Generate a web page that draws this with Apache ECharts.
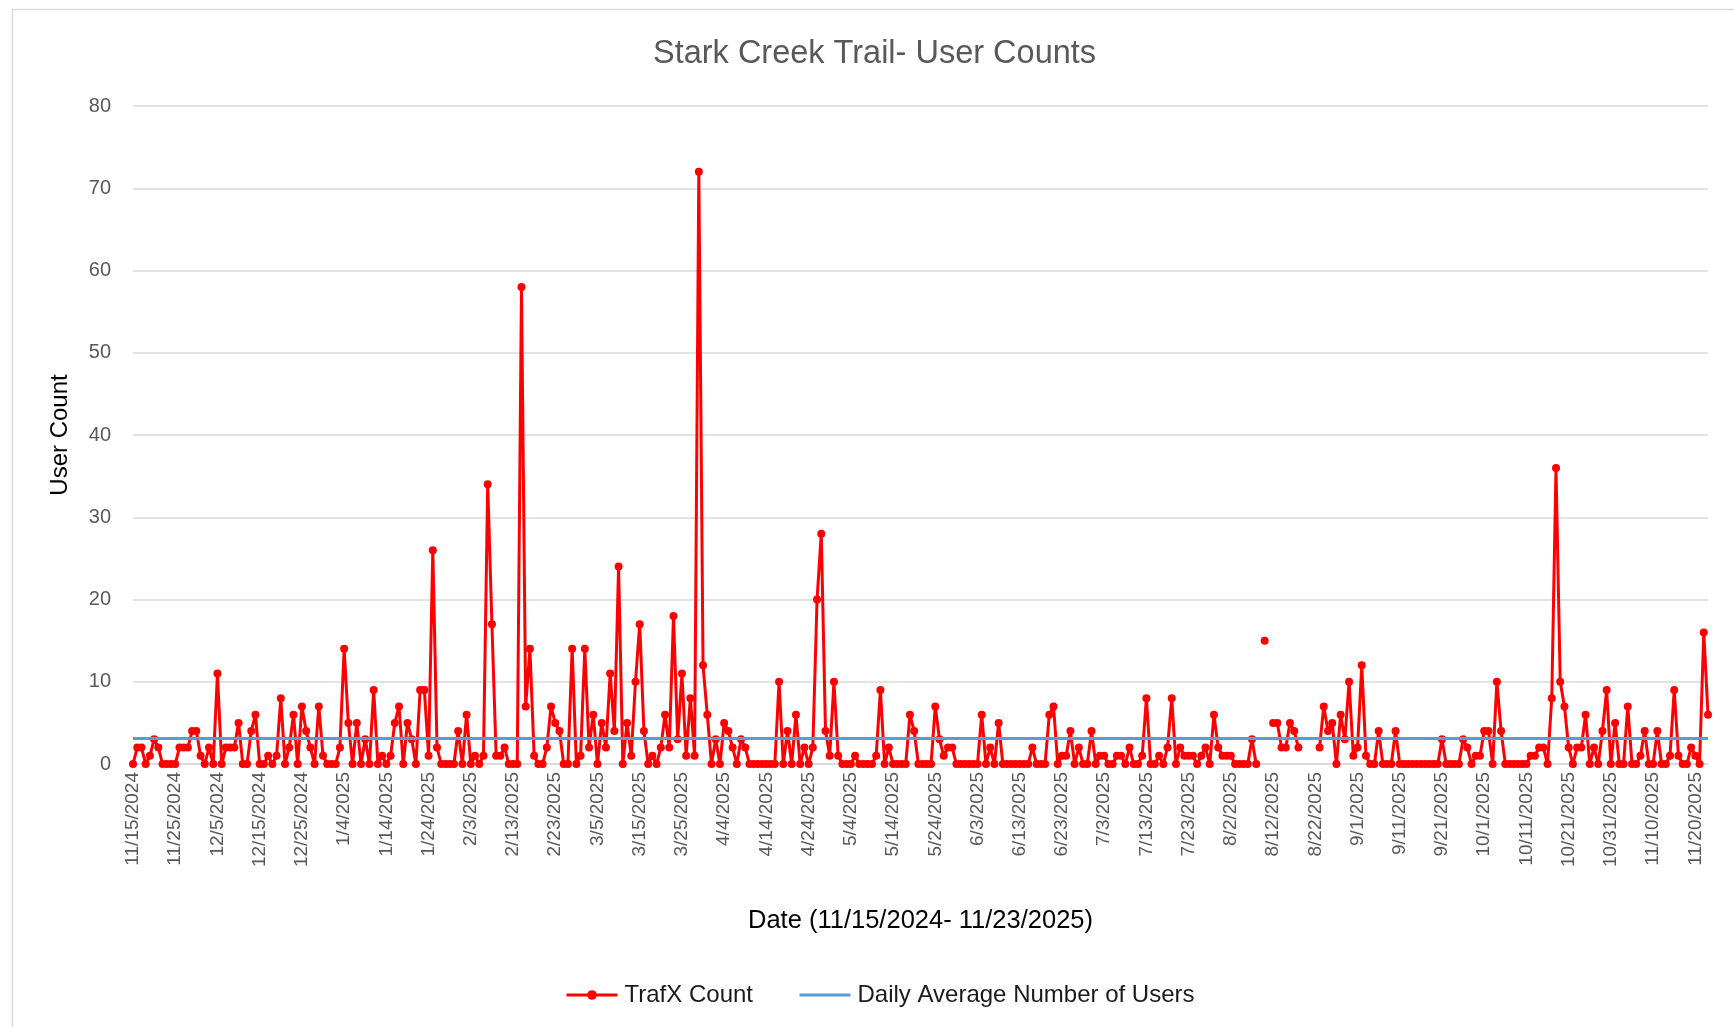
<!DOCTYPE html>
<html>
<head>
<meta charset="utf-8">
<script src="https://cdn.jsdelivr.net/npm/echarts@6/dist/echarts.min.js"></script>
<style>
html,body{margin:0;padding:0;background:#fff;}
#chart{width:1734px;height:1027px;}
</style>
</head>
<body>
<div id="chart"></div>
<script>
// Daily dates from 11/15/2024 to 11/23/2025
const startDate = [2024, 11, 15];
const dayCount = 374;

// TrafX daily counts (null = no data)
const trafxCount = [
  0,2,2,0,1,3,2,0,0,0, 0,2,2,2,4,4,1,0,2,0, 11,0,2,2,2,5,0,0,4,6,
  0,0,1,0,1,8,0,2,6,0, 7,4,2,0,7,1,0,0,0,2, 14,5,0,5,0,3,0,9,0,1,
  0,1,5,7,0,5,3,0,9,9, 1,26,2,0,0,0,0,4,0,6, 0,1,0,1,34,17,1,1,2,0,
  0,0,58,7,14,1,0,0,2,7, 5,4,0,0,14,0,1,14,2,6, 0,5,2,11,4,24,0,5,1,10,
  17,4,0,1,0,2,6,2,18,3, 11,1,8,1,72,12,6,0,3,0, 5,4,2,0,3,2,0,0,0,0,
  0,0,0,10,0,4,0,6,0,2, 0,2,20,28,4,1,10,1,0,0, 0,1,0,0,0,0,1,9,0,2,
  0,0,0,0,6,4,0,0,0,0, 7,3,1,2,2,0,0,0,0,0, 0,6,0,2,0,5,0,0,0,0,
  0,0,0,2,0,0,0,6,7,0, 1,1,4,0,2,0,0,4,0,1, 1,0,0,1,1,0,2,0,0,1,
  8,0,0,1,0,2,8,0,2,1, 1,1,0,1,2,0,6,2,1,1, 1,0,0,0,0,3,0,null,15,null,
  5,5,2,2,5,4,2,null,null,null, null,2,7,4,5,0,6,3,10,1, 2,12,1,0,0,4,0,0,0,4,
  0,0,0,0,0,0,0,0,0,0, 3,0,0,0,0,3,2,0,1,1, 4,4,0,10,4,0,0,0,0,0,
  0,1,1,2,2,0,8,36,10,7, 2,0,2,2,6,0,2,0,4,9, 0,5,0,0,7,0,0,1,4,0,
  0,4,0,0,1,9,1,0,0,2, 1,0,16,6
];

// Daily average number of users
const dailyAverage = 3.1;

const tickLabels = [
  '11/15/2024','11/25/2024','12/5/2024','12/15/2024','12/25/2024','1/4/2025','1/14/2025','1/24/2025',
  '2/3/2025','2/13/2025','2/23/2025','3/5/2025','3/15/2025','3/25/2025','4/4/2025','4/14/2025',
  '4/24/2025','5/4/2025','5/14/2025','5/24/2025','6/3/2025','6/13/2025','6/23/2025','7/3/2025',
  '7/13/2025','7/23/2025','8/2/2025','8/12/2025','8/22/2025','9/1/2025','9/11/2025','9/21/2025',
  '10/1/2025','10/11/2025','10/21/2025','10/31/2025','11/10/2025','11/20/2025'
];

const categories = [];
{
  const d = new Date(Date.UTC(startDate[0], startDate[1]-1, startDate[2]));
  for (let i = 0; i < dayCount; i++) {
    categories.push((d.getUTCMonth()+1) + '/' + d.getUTCDate() + '/' + d.getUTCFullYear());
    d.setUTCDate(d.getUTCDate()+1);
  }
}
const tickSet = new Set(tickLabels);

const chart = echarts.init(document.getElementById('chart'), null, {renderer:'canvas'});
const FONT = '"Liberation Sans", Arial, sans-serif';
chart.setOption({
  animation: false,
  backgroundColor: '#ffffff',
  textStyle: {fontFamily: FONT},
  graphic: [{
    type: 'rect', left: 10, top: 7, z: -1,
    shape: {width: 1800, height: 1100},
    style: {fill: 'none', stroke: '#d9d9d9', lineWidth: 1.5}
  }],
  title: {
    text: 'Stark Creek Trail- User Counts',
    left: 648, top: 33,
    textStyle: {fontFamily: FONT, fontSize: 32.5, fontWeight: 'normal', color: '#595959'}
  },
  grid: {left: 133, right: 26, top: 106, bottom: 263, containLabel: false},
  legend: {
    bottom: 15, left: 560,
    itemWidth: 51, itemHeight: 12, itemGap: 45,
    textStyle: {fontFamily: FONT, fontSize: 24, color: '#1a1a1a', padding: [0,0,0,2]},
    data: [
      {name: 'TrafX Count', lineStyle: {width: 3, color: '#ff0000'}},
      {name: 'Daily Average Number of Users', itemStyle: {opacity: 0}, lineStyle: {width: 3, color: '#5b9bd5'}}
    ]
  },
  xAxis: {
    type: 'category',
    data: categories,
    boundaryGap: false,
    name: 'Date (11/15/2024- 11/23/2025)',
    nameLocation: 'middle',
    nameGap: 144,
    nameTextStyle: {fontFamily: FONT, fontSize: 25.5, color: '#000000', verticalAlign: 'top'},
    axisLine: {show: true, lineStyle: {color: '#d9d9d9', width: 1.5}},
    axisTick: {show: false},
    axisLabel: {
      rotate: 90, margin: 8, fontSize: 19, color: '#595959', fontFamily: FONT,
      interval: function (idx, val) { return tickSet.has(val); }
    },
    splitLine: {show: false}
  },
  yAxis: {
    type: 'value',
    min: 0, max: 80, interval: 10,
    name: 'User Count',
    nameLocation: 'middle',
    nameGap: 61,
    nameTextStyle: {fontFamily: FONT, fontSize: 24, color: '#000000'},
    axisLine: {show: false},
    axisTick: {show: false},
    axisLabel: {fontSize: 20, color: '#595959', margin: 22, fontFamily: FONT},
    splitLine: {lineStyle: {color: '#d9d9d9', width: 1.5}}
  },
  series: [
    {
      name: 'TrafX Count',
      type: 'line',
      data: trafxCount,
      connectNulls: false,
      showSymbol: true,
      showAllSymbol: true,
      symbol: 'circle',
      symbolSize: 8,
      itemStyle: {color: '#ff0000'},
      lineStyle: {color: '#ff0000', width: 3},
      z: 2
    },
    {
      name: 'Daily Average Number of Users',
      type: 'line',
      data: [[categories[0], dailyAverage], [categories[categories.length-1], dailyAverage]],
      showSymbol: false,
      symbol: 'none',
      itemStyle: {color: '#5b9bd5'},
      lineStyle: {color: '#5b9bd5', width: 3},
      z: 3
    }
  ]
});
</script>
</body>
</html>
